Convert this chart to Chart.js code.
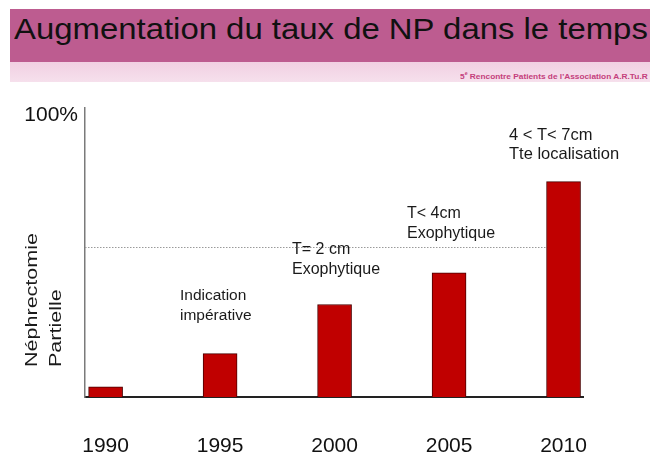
<!DOCTYPE html>
<html>
<head>
<meta charset="utf-8">
<script src="https://cdn.jsdelivr.net/npm/chart.js@4.4.1/dist/chart.umd.min.js"></script>
<style>
  body { margin: 0; background: #fff; font-family: "Liberation Sans", Arial, sans-serif; }
  #page { position: relative; width: 650px; height: 455px; overflow: hidden; }
  #band { position: absolute; left: 10px; top: 9px; width: 640px; height: 53px; background: #bd5c90; }
  #strip { position: absolute; left: 10px; top: 62px; width: 640px; height: 20px;
           background: linear-gradient(#f1d0e2, #f6e0ec); }
  #title { position: absolute; left: 14px; top: 12px; font-size: 29px; line-height: 34px; color: #111;
           white-space: nowrap; transform-origin: 0 0; }
  #sub { position: absolute; right: 2px; top: 68px; font-size: 8px; line-height: 10px; font-weight: bold;
         color: #c4407c; white-space: nowrap; transform-origin: 100% 0; }
  #wrap { position: absolute; left: 0; top: 0; width: 650px; height: 455px; }
</style>
</head>
<body>
<div id="page">
  <div id="band"></div>
  <div id="strip"></div>
  <div id="title">Augmentation du taux de NP dans le temps</div>
  <div id="sub">5<sup style="font-size:5px">e</sup> Rencontre Patients de l'Association A.R.Tu.R</div>
  <div id="wrap"><canvas id="npChart"></canvas></div>
</div>
<script>
// Data
const years = [1990, 1995, 2000, 2005, 2010];
const npShare = [3.5, 15, 32, 43, 74.5];   // % of partial nephrectomy
const refLevel = 52;                        // dotted reference line
const yTicks = [100];
const yTitle = ['Néphrectomie', 'Partielle'];
const notes = [
    ['Indication', 'impérative'],
    ['T= 2 cm', 'Exophytique'],
    ['T< 4cm', 'Exophytique'],
    ['4 < T< 7cm', 'Tte localisation']
];

// text layout (pixels)
const notePos = [[180, 296, 15.5], [292, 250, 16], [407, 214, 16], [509, 135, 16.5]];

// stretch title to slide width
const t = document.getElementById('title');
t.style.transform = 'scaleX(' + (634 / t.offsetWidth) + ')';
const s = document.getElementById('sub');
s.style.transform = 'scaleX(' + (188 / s.offsetWidth) + ')';

const decor = {
    id: 'decor',
    beforeDatasetsDraw(chart) {
        const ctx = chart.ctx, xs = chart.scales.x, ys = chart.scales.y;
        const y = Math.round(ys.getPixelForValue(refLevel)) + 0.5;
        ctx.save();
        ctx.strokeStyle = '#9a9a9a';
        ctx.lineWidth = 1;
        ctx.setLineDash([1.5, 1.5]);
        ctx.beginPath();
        ctx.moveTo(chart.chartArea.left, y);
        ctx.lineTo(xs.getPixelForValue(years[years.length - 1]), y);
        ctx.stroke();
        ctx.restore();
    },
    afterDraw(chart) {
        const ctx = chart.ctx;
        ctx.save();
        ctx.fillStyle = '#1a1a1a';
        ctx.textBaseline = 'middle';
        ctx.textAlign = 'left';
        notes.forEach((lines, i) => {
            const [x, y, size] = notePos[i];
            ctx.font = size + 'px "Liberation Sans", Arial, sans-serif';
            lines.forEach((line, j) => ctx.fillText(line, x, y + j * 19.5));
        });
        // rotated axis title, left aligned (starts at the bottom)
        ctx.font = '17px "Liberation Sans", Arial, sans-serif';
        ctx.textBaseline = 'alphabetic';
        const stretch = 134 / ctx.measureText(yTitle[0]).width;
        [37, 61].forEach((bx, j) => {
            ctx.save();
            ctx.translate(bx, 367);
            ctx.rotate(-Math.PI / 2);
            ctx.scale(stretch, 1);
            ctx.fillText(yTitle[j], 0, 0);
            ctx.restore();
        });
        ctx.restore();
    }
};

new Chart(document.getElementById('npChart'), {
    type: 'bar',
    data: {
        datasets: [{
            data: years.map((yr, i) => ({ x: yr, y: npShare[i] })),
            backgroundColor: '#c00000',
            borderColor: '#4a0000',
            borderWidth: 1,
            barThickness: 34
        }]
    },
    options: {
        responsive: true,
        maintainAspectRatio: false,
        animation: false,
        layout: { padding: { top: 108, right: 67, bottom: 0, left: 0 } },
        plugins: { legend: { display: false }, tooltip: { enabled: false } },
        scales: {
            x: {
                type: 'linear',
                offset: false,
                min: 1989.1,
                max: 2010.85,
                grid: { display: false, drawTicks: false },
                border: { color: '#222', width: 2 },
                afterBuildTicks: sc => { sc.ticks = years.map(v => ({ value: v })); },
                afterFit: sc => { sc.height = 58; },
                ticks: {
                    callback: v => String(v),
                    color: '#111',
                    padding: 37,
                    maxRotation: 0,
                    font: { family: '"Liberation Sans", Arial, sans-serif', size: 21 }
                }
            },
            y: {
                min: 0,
                max: 100,
                grid: { display: false, drawTicks: false },
                border: { color: '#7a7a7a', width: 1.5 },
                afterBuildTicks: sc => { sc.ticks = yTicks.map(v => ({ value: v })); },
                afterFit: sc => { sc.width = 85; },
                ticks: {
                    callback: v => v + '%',
                    color: '#111',
                    padding: 7,
                    labelOffset: 7,
                    font: { family: '"Liberation Sans", Arial, sans-serif', size: 21 }
                }
            }
        }
    },
    plugins: [decor]
});
</script>
</body>
</html>
